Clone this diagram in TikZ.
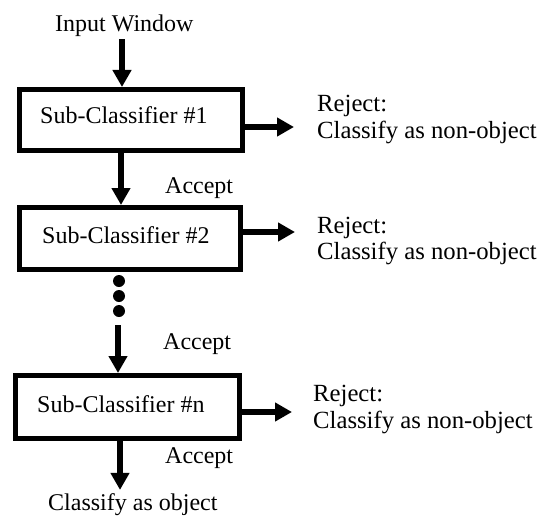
\documentclass[tikz,border=0pt]{standalone}
\usepackage{fontspec}
\setmainfont{Liberation Serif}
\usetikzlibrary{arrows.meta}
\begin{document}
\begin{tikzpicture}[x=1pt,y=-1pt,
  box/.style={draw, line width=5pt, rectangle, inner sep=0pt},
  txt/.style={inner sep=0pt, font=\fontsize{24}{27}\selectfont, anchor=base west},
  rtxt/.style={txt, font=\fontsize{24.7}{27}\selectfont},
  arr/.style={line width=6pt, -{Triangle[width=18pt,length=17pt]}},
  blob/.style={circle, fill, inner sep=0pt, minimum size=12pt}]
\useasboundingbox (0,0) rectangle (540,516);
% texts
\node[txt] (in) at (55,32) {Input Window};
\node[box, minimum width=223pt, minimum height=61pt] (b1) at (131,120) {};
\node[txt] (t1) at (40,124) {Sub-Classifier \#1};
\node[box, minimum width=221pt, minimum height=62pt] (b2) at (130,238.5) {};
\node[txt] (t2) at (42,243) {Sub-Classifier \#2};
\node[box, minimum width=224pt, minimum height=63pt] (bn) at (127.5,407) {};
\node[txt] (tn) at (37,412) {Sub-Classifier \#n};
% reject texts
\node[rtxt] (r1a) at (317,112) {Reject:};
\node[rtxt] (r1b) at (317,138) {Classify as non-object};
\node[rtxt] (r2a) at (317,233) {Reject:};
\node[rtxt] (r2b) at (317,259) {Classify as non-object};
\node[rtxt] (rna) at (313,401) {Reject:};
\node[rtxt] (rnb) at (313,428) {Classify as non-object};
% accept texts
\node[txt] (ac1) at (165,193) {Accept};
\node[txt] (ac2) at (163,349) {Accept};
\node[txt] (ac3) at (165,463) {Accept};
\node[txt] (ob) at (48,510) {Classify as object};
% dots
\node[blob] (d1) at (119,281) {};
\node[blob] (d2) at (119,296) {};
\node[blob] (d3) at (119,311) {};
% arrow x positions and free ends
\coordinate (ax0) at (122,0);
\coordinate (ax1) at (121,0);
\coordinate (ax2) at (118,0);
\coordinate (ax3) at (120,0);
\coordinate (e1) at (294,127);
\coordinate (e2) at (295,232);
\coordinate (en) at (292,412);
% vertical arrows
\draw[arr] ([yshift=-2pt]in.south -| ax0) -- (b1.north -| ax0);
\draw[arr] (b1.south -| ax1) -- (b2.north -| ax1);
\draw[arr] ([yshift=-8pt]d3.south -| ax2) -- (bn.north -| ax2);
\draw[arr, shorten >=3pt] (bn.south -| ax3) -- (ob.north -| ax3);
% reject arrows
\draw[arr] (b1.east |- e1) -- (e1);
\draw[arr] (b2.east |- e2) -- (e2);
\draw[arr] (bn.east |- en) -- (en);
\end{tikzpicture}
\end{document}
